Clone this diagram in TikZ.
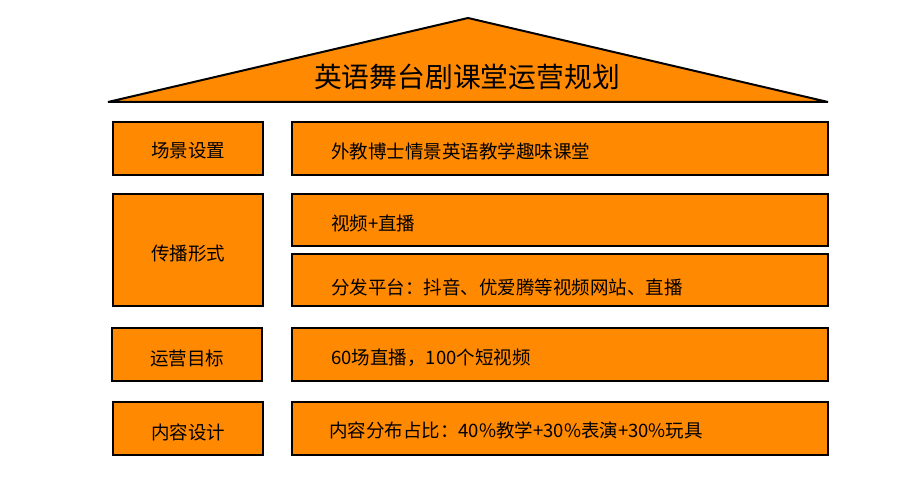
\documentclass[tikz,border=0pt]{standalone}
\usepackage{fontspec}
\setmainfont{Noto Sans CJK SC}
\definecolor{org}{RGB}{255,137,0}
\begin{document}
\begin{tikzpicture}[x=1pt,y=-1pt,
  box/.style={draw=black,fill=org,line width=2pt},
  lbl/.style={font=\fontsize{18.5}{20}\selectfont,inner sep=0pt},
]
\useasboundingbox (0,0) rectangle (911,489);
\fill[white] (0,0) rectangle (911,489);
\draw[box,line join=bevel] (108,102) -- (468,18) -- (828,102) -- cycle;
\node[inner sep=0pt,font=\fontsize{27.8}{30}\selectfont] (title) at (467,77) {英语舞台剧课堂运营规划};
% left column
\draw[box] (113,122) rectangle (263,175) node[midway,lbl,yshift=-2pt] (l1) {场景设置};
\draw[box] (113,194) rectangle (263,306) node[midway,lbl,yshift=-4pt] (l2) {传播形式};
\draw[box] (112,328) rectangle (262,381) node[midway,lbl,yshift=-4pt] (l3) {运营目标};
\draw[box] (113,402) rectangle (263,455) node[midway,lbl,yshift=-4pt] (l4) {内容设计};
% right column
\draw[box] (292,122) rectangle (828,175);
\draw[box] (292,194) rectangle (828,246);
\draw[box] (292,254) rectangle (828,306);
\draw[box] (292,328) rectangle (828,381);
\draw[box] (292,402) rectangle (828,455);
\node[lbl,anchor=west] (r1) at (331,151) {外教博士情景英语教学趣味课堂};
\node[lbl,anchor=west] (r2) at (331,223) {视频+直播};
\node[lbl,anchor=west] (r3) at (331,287) {分发平台：抖音、优爱腾等视频网站、直播};
\node[lbl,anchor=west] (r4) at (331,358) {60场直播，100个短视频};
\node[lbl,anchor=west] (r5) at (329,430) {内容分布占比：40\%教学+30\%表演+30\%玩具};
\end{tikzpicture}
\end{document}
